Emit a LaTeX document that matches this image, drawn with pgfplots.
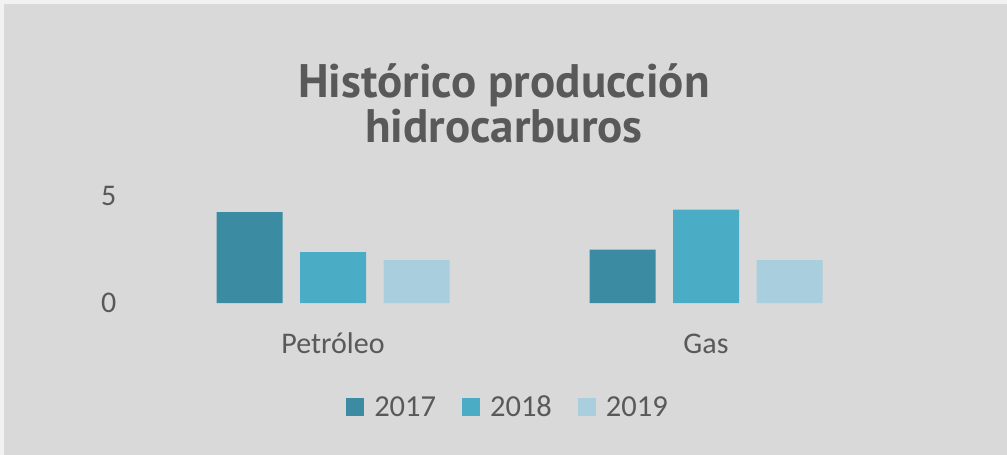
\documentclass[border=0pt]{standalone}
\usepackage{pgfplots}
\pgfplotsset{compat=1.18}
\usepackage{fontspec}
\setmainfont{Carlito}
\newfontfamily\titlefont{PT Sans}
\definecolor{bgout}{HTML}{F2F2F2}
\definecolor{bgin}{HTML}{D9D9D9}
\definecolor{txt}{HTML}{595959}
\definecolor{cA}{HTML}{3B8BA3}
\definecolor{cB}{HTML}{4BACC6}
\definecolor{cC}{HTML}{A9CEDD}

\begin{document}
\begin{tikzpicture}[x=1pt,y=1pt]
% page and chart area (y runs downward as negative)
\fill[bgout] (0,0) rectangle (1007,-455);
\fill[bgin] (4,-4) rectangle (1007,-455);
\path[use as bounding box] (0,0) rectangle (1007,-455);
\coordinate (plotorigin) at (146.5,-303);

\node[anchor=base,text=txt,inner sep=0] at (504,-97.7)
  {\titlefont\bfseries\fontsize{47}{54}\selectfont Histórico producción};
\node[anchor=base,text=txt,inner sep=0] at (504,-142)
  {\titlefont\bfseries\fontsize{47}{54}\selectfont hidrocarburos};

\begin{axis}[
  at={(plotorigin)}, anchor=south west,
  scale only axis, width=746pt, height=107pt,
  ybar=17.5pt, bar width=66pt,
  xmin=-0.5, xmax=1.5, ymin=0, ymax=5,
  xtick=data, xticklabels={Petróleo,Gas},
  ytick={0,5},
  axis line style={draw=none},
  major tick length=0pt,
  /pgf/number format/assume math mode=true,
  tick label style={font=\fontsize{30}{36}\selectfont, text=txt, inner sep=0},
  xticklabel style={anchor=base, yshift=-50pt},
  yticklabel style={anchor=east, xshift=-30pt},
  legend style={at={(0.4846,-0.972)}, anchor=center, draw=none, fill=none,
    legend columns=3, font=\fontsize{30.5}{36}\selectfont, text=txt,
    inner sep=0pt,
    /tikz/every odd column/.append style={column sep=8pt},
    /tikz/every even column/.append style={column sep=24pt}},
  legend image code/.code={\fill[#1] (0pt,-9pt) rectangle (18pt,9pt);},
  legend cell align=left,
]
\addplot[fill=cA,draw=none] coordinates {(0,4.25) (1,2.49)};
\addplot[fill=cB,draw=none] coordinates {(0,2.38) (1,4.36)};
\addplot[fill=cC,draw=none] coordinates {(0,2.00) (1,2.00)};
\legend{2017,2018,2019}
\end{axis}
\end{tikzpicture}
\end{document}
